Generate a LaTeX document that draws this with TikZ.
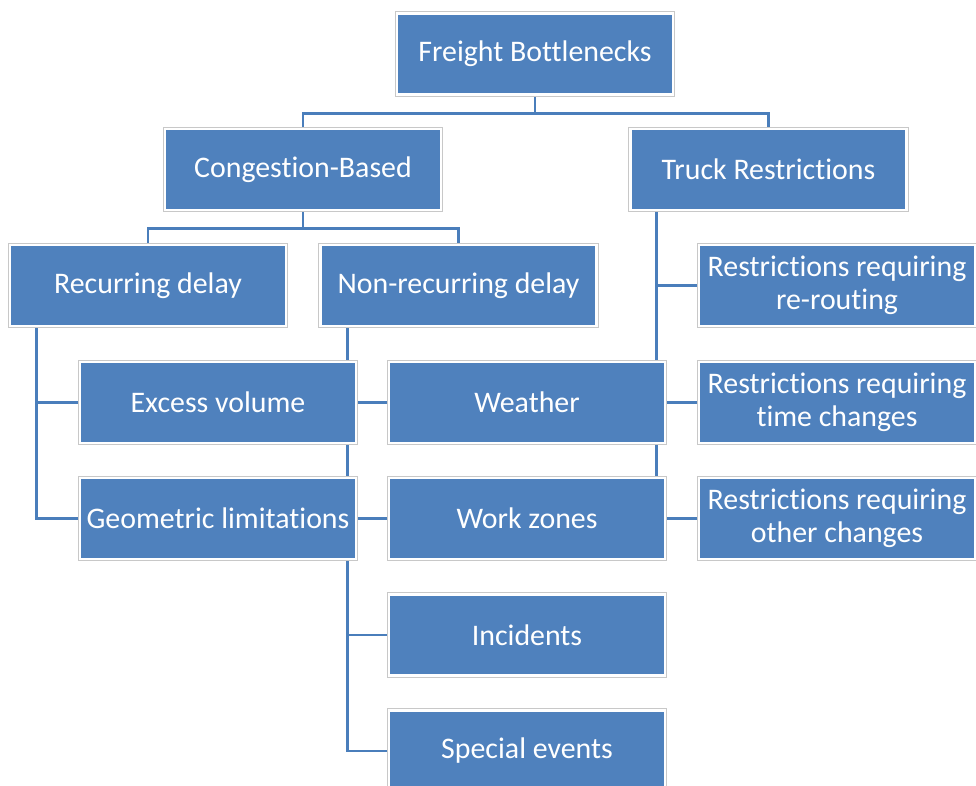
\documentclass[tikz,border=0pt]{standalone}
\usepackage{fontspec}
\setmainfont{Carlito}[Ligatures=NoCommon]
\usepackage{xcolor}
\usepackage{tikz}
\usetikzlibrary{backgrounds}

\definecolor{boxblue}{HTML}{4F81BD}
\definecolor{linkblue}{HTML}{4A7EBB}
\definecolor{rimgray}{HTML}{C8C8C8}

\tikzset{
  block/.style={rectangle, fill=boxblue, draw=white, line width=1.4pt,
    preaction={draw=rimgray, line width=2.6pt},
    minimum width=5.52cm, minimum height=1.62cm, inner sep=0pt,
    align=center, text=white, font=\fontsize{17}{18.5}\selectfont},
  link/.style={draw=linkblue, line width=1.5pt}
}

\begin{document}
\begin{tikzpicture}[x=0.02cm,y=-0.02cm]
\clip (0,0) rectangle (976,786);

\node[block]   (FB) at (535,54)    {Freight Bottlenecks};
  \node[block] (CB) at (303,169.5) {Congestion-Based};
  \node[block] (TR) at (768.5,169.5) {Truck Restrictions};
  \node[block] (RD) at (148,285.5) {Recurring delay};
  \node[block] (ND) at (458.5,285.5) {Non-recurring delay};
  \node[block] (EV) at (218,402.5) {Excess volume};
  \node[block] (GL) at (218,518.5) {Geometric limitations};
  \node[block] (WE) at (527,402.5) {Weather};
  \node[block] (WZ) at (527,518.5) {Work zones};
  \node[block] (IN) at (527,635)   {Incidents};
  \node[block] (SE) at (527,751)   {Special events};
  \node[block] (RR) at (837,285.5) {Restrictions requiring\\re-routing};
  \node[block] (RT) at (837,402.5) {Restrictions requiring\\time changes};
  \node[block] (RO) at (837,518.5) {Restrictions requiring\\other changes};

\begin{scope}[on background layer]
  \fill[white] (0,0) rectangle (976,786);

  \draw[link] (FB.south) -- ++(0,17.5) -| (CB.north);
  \draw[link] (FB.south) -- ++(0,17.5) -| (TR.north);
  \draw[link] (CB.south) -- ++(0,17.5) -| (RD.north);
  \draw[link] (CB.south) -- ++(0,17.5) -| (ND.north);

  \draw[link] ([xshift=0.56cm]RD.south west) |- (EV.west);
  \draw[link] ([xshift=0.56cm]RD.south west) |- (GL.west);

  \draw[link] ([xshift=0.56cm]ND.south west) |- (WE.west);
  \draw[link] ([xshift=0.56cm]ND.south west) |- (WZ.west);
  \draw[link] ([xshift=0.56cm]ND.south west) |- (IN.west);
  \draw[link] ([xshift=0.56cm]ND.south west) |- (SE.west);

  \draw[link] ([xshift=0.54cm]TR.south west) |- (RR.west);
  \draw[link] ([xshift=0.54cm]TR.south west) |- (RT.west);
  \draw[link] ([xshift=0.54cm]TR.south west) |- (RO.west);
\end{scope}
    \end{tikzpicture}
\end{document}
